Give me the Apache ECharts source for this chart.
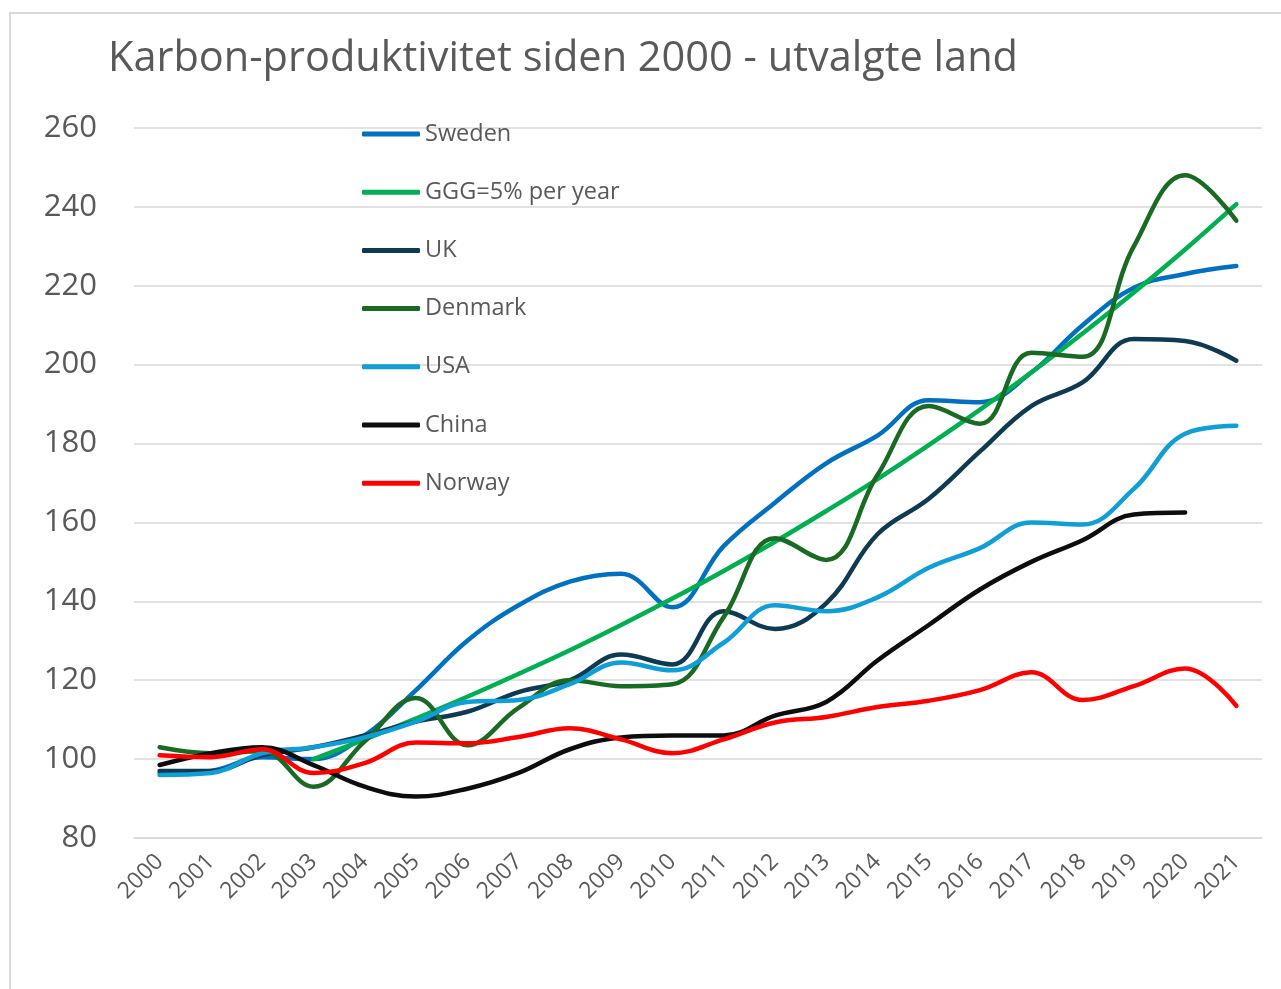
<!DOCTYPE html>
<html>
<head>
<meta charset="utf-8">
<script src="https://cdn.jsdelivr.net/npm/echarts@6/dist/echarts.min.js"></script>
<style>
  html, body { margin: 0; padding: 0; background: #fff; }
  #frame { position: absolute; left: 9px; top: 12px; width: 1400px; height: 1100px;
           border-left: 2px solid #d9d9d9; border-top: 2px solid #d9d9d9; }
  #chart { position: absolute; left: 0; top: 0; width: 1281px; height: 989px; }
</style>
</head>
<body>
<div id="frame"></div>
<div id="chart"></div>
<script>
  // årstall
  const years = ['2000','2001','2002','2003','2004','2005','2006','2007','2008','2009','2010',
                 '2011','2012','2013','2014','2015','2016','2017','2018','2019','2020','2021'];

  // lest av bildet
  const sweden  = [96.5, 97, 100.5, 100, 106, 117.5, 130, 139, 145, 147, 138.5, 154, 165, 175, 182, 191, 190.5, 198, 210, 219.5, 223, 225];
  const ggg     = [null, null, null, 100, 105, 110.3, 115.8, 121.6, 127.6, 134, 140.7, 147.7, 155.1, 162.9, 171, 179.6, 188.6, 198, 207.9, 218.3, 229.2, 240.7];
  const uk      = [97, 97, 101, 103, 106, 109.5, 112, 117, 120, 126.5, 124, 137.5, 133, 139.5, 157, 166, 178, 189.5, 195.5, 206.5, 206, 201];
  const denmark = [103, 101.5, 102, 93, 104.5, 115.5, 103.5, 113, 120, 118.5, 119, 136, 156, 150.5, 172, 189.5, 185, 203, 202, 230, 248, 236.5];
  const usa     = [96, 96.5, 101.5, 103, 105.5, 109.5, 114.5, 115, 119, 124.5, 122.5, 129.5, 139, 137.5, 141, 148.5, 153.5, 160, 159.5, 168.5, 182.5, 184.5];
  const china   = [98.5, 101.5, 103, 98.5, 93, 90.5, 92.5, 96.5, 102.5, 105.5, 106, 106, 111, 114.5, 125, 134, 143, 150, 155.5, 162, 162.5, null];
  const norway  = [101, 100.5, 102.5, 96.5, 99, 104.2, 104, 105.6, 107.8, 105, 101.5, 105, 109.3, 110.7, 113.2, 114.8, 117.5, 122, 115, 118.5, 123, 113.5];

  const yTicks = { min: 80, max: 260, step: 20 };

  const names  = ['Sweden', 'GGG=5% per year', 'UK', 'Denmark', 'USA', 'China', 'Norway'];
  const colors = ['#0070C0', '#00B050', '#0E3A52', '#196B24', '#0F9ED5', '#0D0D0D', '#FF0000'];
  const values = [sweden, ggg, uk, denmark, usa, china, norway];

  const textColor = '#595959';
  const font = 'Open Sans';

  let myChart = echarts.init(document.getElementById('chart'));
  myChart.setOption({
    animation: false,
    title: {
      text: 'Karbon-produktivitet siden 2000 - utvalgte land',
      left: 103,
      top: 33,
      textStyle: { color: textColor, fontSize: 41.5, fontWeight: 'normal', fontFamily: font }
    },
    legend: {
      orient: 'vertical',
      left: 362,
      top: 122,
      padding: 0,
      icon: 'roundRect',
      itemWidth: 58,
      itemHeight: 5,
      itemGap: 34.2,
      data: names,
      textStyle: { color: textColor, fontSize: 23.5, fontFamily: font, lineHeight: 24 }
    },
    grid: {
      left: 134,
      right: 19,
      top: 128,
      bottom: 151
    },
    xAxis: {
      type: 'category',
      data: years,
      boundaryGap: true,
      axisTick: { show: false },
      axisLine: { lineStyle: { color: '#d9d9d9', width: 1.5 } },
      axisLabel: {
        rotate: 45,
        margin: 20,
        color: textColor,
        fontSize: 23,
        fontFamily: font
      }
    },
    yAxis: {
      type: 'value',
      min: yTicks.min,
      max: yTicks.max,
      interval: yTicks.step,
      axisLine: { show: false },
      axisTick: { show: false },
      splitLine: { lineStyle: { color: '#d9d9d9', width: 1.5 } },
      axisLabel: {
        margin: 37,
        color: textColor,
        fontSize: 31,
        fontFamily: font
      }
    },
    series: names.map((n, i) => ({
      name: n,
      type: 'line',
      data: values[i],
      smooth: 0.4,
      symbol: 'none',
      connectNulls: false,
      color: colors[i],
      lineStyle: { color: colors[i], width: 4.5, cap: 'round' }
    }))
  });
  window.addEventListener('resize', myChart.resize);
</script>
</body>
</html>
